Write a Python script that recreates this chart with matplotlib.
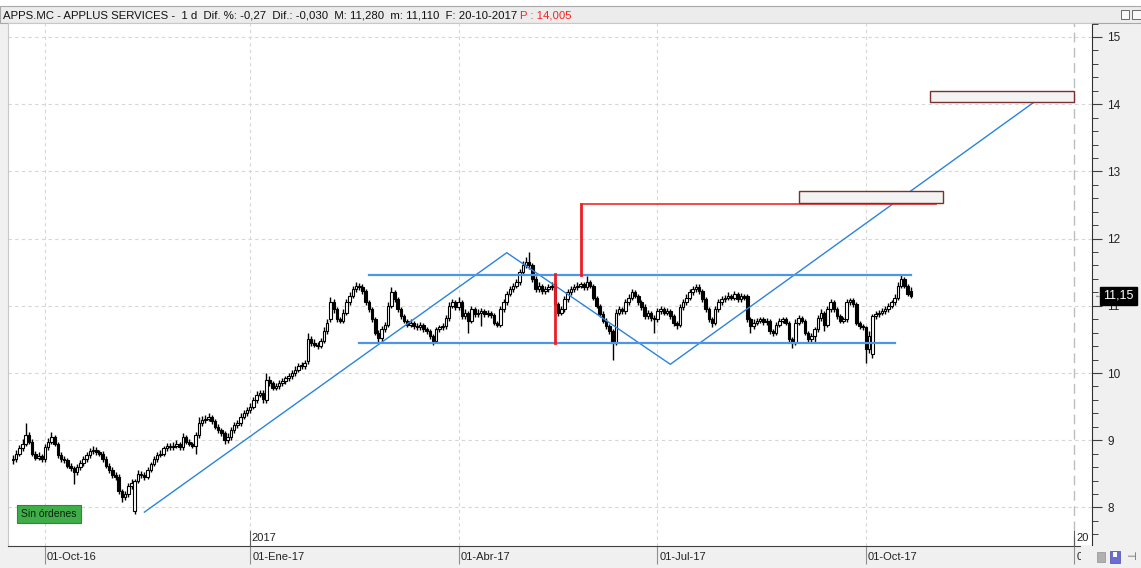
import matplotlib
matplotlib.use('Agg')
import matplotlib.pyplot as plt
from matplotlib.patches import Rectangle
import matplotlib.transforms as mtransforms
import numpy as np
import pandas as pd

plt.rcParams['font.family'] = ['Liberation Sans', 'DejaVu Sans']

# daily candles APPS.MC, 19-09-2016 .. 20-10-2017
opens = [8.70, 8.72, 8.80, 8.88, 8.95, 9.08, 8.98, 8.80, 8.74, 8.76,
         8.72, 8.90, 8.98, 9.05, 8.95, 8.78, 8.72, 8.70, 8.62, 8.58,
         8.52, 8.60, 8.66, 8.72, 8.78, 8.84, 8.86, 8.82, 8.80, 8.72,
         8.62, 8.55, 8.48, 8.45, 8.25, 8.15, 8.20, 8.32, 7.95, 8.40,
         8.50, 8.48, 8.45, 8.55, 8.65, 8.72, 8.78, 8.80, 8.88, 8.92,
         8.90, 8.92, 8.95, 8.90, 9.05, 8.98, 8.95, 8.92, 9.08, 9.25,
         9.30, 9.32, 9.35, 9.28, 9.20, 9.15, 9.10, 9.00, 9.05, 9.15,
         9.22, 9.25, 9.35, 9.40, 9.45, 9.50, 9.60, 9.68, 9.70, 9.60,
         9.90, 9.85, 9.78, 9.80, 9.85, 9.88, 9.92, 9.95, 10.00, 10.05,
         10.12, 10.10, 10.18, 10.50, 10.45, 10.42, 10.40, 10.48, 10.62, 10.80,
         11.05, 10.95, 10.80, 10.78, 10.90, 11.05, 11.15, 11.25, 11.30, 11.28,
         11.22, 11.05, 10.95, 10.80, 10.60, 10.52, 10.65, 10.72, 11.00, 11.20,
         11.10, 10.95, 10.85, 10.78, 10.72, 10.75, 10.70, 10.68, 10.72, 10.65,
         10.62, 10.55, 10.48, 10.65, 10.68, 10.70, 10.82, 11.00, 11.05, 10.98,
         11.05, 10.85, 10.90, 10.78, 10.95, 10.88, 10.90, 10.92, 10.88, 10.90,
         10.86, 10.75, 10.72, 10.95, 11.05, 11.18, 11.25, 11.30, 11.35, 11.50,
         11.60, 11.65, 11.60, 11.40, 11.25, 11.30, 11.22, 11.25, 11.28, 11.32,
         11.02, 10.90, 10.95, 11.10, 11.20, 11.25, 11.28, 11.30, 11.32, 11.28,
         11.35, 11.30, 11.12, 11.00, 10.88, 10.78, 10.70, 10.62, 10.45, 10.90,
         10.95, 10.92, 11.05, 11.12, 11.20, 11.15, 11.05, 10.98, 10.85, 10.90,
         10.82, 10.80, 10.92, 10.95, 10.90, 10.92, 10.85, 10.75, 10.72, 10.98,
         11.05, 11.12, 11.20, 11.25, 11.28, 11.22, 11.10, 10.95, 10.80, 10.75,
         10.95, 11.05, 11.10, 11.12, 11.15, 11.12, 11.18, 11.10, 11.15, 11.15,
         10.80, 10.70, 10.75, 10.78, 10.80, 10.76, 10.78, 10.62, 10.60, 10.72,
         10.78, 10.80, 10.75, 10.50, 10.45, 10.75, 10.82, 10.78, 10.60, 10.50,
         10.55, 10.65, 10.82, 10.90, 10.72, 10.95, 11.05, 10.95, 10.85, 10.78,
         10.80, 11.05, 11.08, 11.02, 10.75, 10.70, 10.68, 10.35, 10.28, 10.85,
         10.88, 10.90, 10.92, 10.95, 11.00, 11.05, 11.12, 11.30, 11.40, 11.30,
         11.22]
highs = [8.78, 8.86, 8.93, 9.02, 9.26, 9.12, 9.02, 8.84, 8.82, 8.80,
         8.95, 9.03, 9.12, 9.08, 8.98, 8.82, 8.76, 8.74, 8.66, 8.62,
         8.64, 8.70, 8.76, 8.82, 8.88, 8.92, 8.90, 8.86, 8.84, 8.76,
         8.66, 8.60, 8.52, 8.50, 8.28, 8.24, 8.36, 8.42, 8.43, 8.55,
         8.54, 8.52, 8.60, 8.68, 8.76, 8.82, 8.85, 8.92, 8.96, 8.96,
         8.97, 9.00, 8.98, 9.10, 9.08, 9.02, 8.98, 9.12, 9.35, 9.36,
         9.37, 9.40, 9.38, 9.32, 9.24, 9.18, 9.13, 9.10, 9.20, 9.27,
         9.30, 9.40, 9.45, 9.50, 9.55, 9.65, 9.73, 9.75, 9.74, 10.00,
         9.95, 9.88, 9.85, 9.90, 9.93, 9.96, 10.00, 10.05, 10.10, 10.15,
         10.16, 10.20, 10.60, 10.55, 10.50, 10.46, 10.52, 10.68, 10.80, 11.13,
         11.10, 10.98, 10.84, 10.95, 11.10, 11.20, 11.30, 11.35, 11.34, 11.32,
         11.25, 11.08, 10.98, 10.83, 10.64, 10.70, 10.76, 11.05, 11.28, 11.23,
         11.13, 10.98, 10.88, 10.81, 10.80, 10.78, 10.74, 10.76, 10.75, 10.68,
         10.65, 10.58, 10.69, 10.72, 10.74, 10.86, 11.05, 11.10, 11.08, 11.13,
         11.08, 10.95, 10.93, 11.00, 10.98, 10.95, 10.96, 10.95, 10.94, 10.93,
         10.90, 10.78, 11.00, 11.10, 11.22, 11.30, 11.34, 11.40, 11.55, 11.66,
         11.72, 11.80, 11.63, 11.44, 11.35, 11.33, 11.30, 11.32, 11.35, 11.36,
         11.05, 11.00, 11.15, 11.25, 11.30, 11.32, 11.35, 11.36, 11.36, 11.45,
         11.38, 11.33, 11.15, 11.03, 10.92, 10.82, 10.73, 10.66, 10.95, 11.00,
         10.98, 11.10, 11.18, 11.25, 11.24, 11.18, 11.08, 11.02, 10.94, 10.93,
         10.86, 10.97, 11.00, 10.98, 10.96, 10.95, 10.88, 10.78, 11.02, 11.10,
         11.17, 11.25, 11.30, 11.33, 11.32, 11.25, 11.13, 10.98, 10.83, 11.00,
         11.10, 11.15, 11.16, 11.20, 11.18, 11.22, 11.21, 11.19, 11.18, 11.18,
         10.83, 10.80, 10.82, 10.84, 10.83, 10.82, 10.81, 10.65, 10.76, 10.82,
         10.84, 10.83, 10.78, 10.53, 10.80, 10.86, 10.85, 10.81, 10.63, 10.59,
         10.69, 10.86, 10.95, 10.93, 11.00, 11.10, 11.08, 10.98, 10.88, 10.84,
         11.10, 11.12, 11.11, 11.05, 10.78, 10.73, 10.70, 10.62, 10.88, 10.92,
         10.94, 10.96, 10.99, 11.04, 11.09, 11.17, 11.35, 11.47, 11.43, 11.33,
         11.28]
lows = [8.64, 8.68, 8.76, 8.84, 8.92, 8.94, 8.76, 8.70, 8.70, 8.68,
        8.68, 8.86, 8.94, 8.92, 8.74, 8.68, 8.66, 8.58, 8.54, 8.35,
        8.48, 8.56, 8.62, 8.68, 8.74, 8.80, 8.78, 8.76, 8.68, 8.58,
        8.51, 8.44, 8.41, 8.20, 8.08, 8.11, 8.16, 8.28, 7.90, 8.36,
        8.44, 8.41, 8.42, 8.52, 8.62, 8.68, 8.75, 8.77, 8.84, 8.86,
        8.86, 8.88, 8.86, 8.86, 8.94, 8.91, 8.88, 8.80, 9.04, 9.21,
        9.26, 9.28, 9.24, 9.16, 9.11, 9.06, 8.95, 8.96, 9.01, 9.11,
        9.18, 9.21, 9.31, 9.36, 9.41, 9.46, 9.56, 9.64, 9.55, 9.56,
        9.81, 9.74, 9.74, 9.76, 9.81, 9.84, 9.88, 9.91, 9.96, 10.01,
        10.06, 10.06, 10.14, 10.40, 10.38, 10.36, 10.37, 10.44, 10.58, 10.76,
        10.90, 10.76, 10.74, 10.74, 10.86, 11.01, 11.11, 11.21, 11.24, 11.18,
        11.01, 10.91, 10.76, 10.56, 10.45, 10.48, 10.61, 10.68, 10.96, 11.06,
        10.91, 10.81, 10.74, 10.68, 10.68, 10.66, 10.64, 10.64, 10.61, 10.58,
        10.51, 10.42, 10.45, 10.61, 10.64, 10.66, 10.78, 10.96, 10.94, 10.94,
        10.80, 10.80, 10.60, 10.74, 10.84, 10.84, 10.70, 10.84, 10.84, 10.82,
        10.71, 10.68, 10.68, 10.91, 11.01, 11.14, 11.21, 11.26, 11.31, 11.46,
        11.56, 11.55, 11.36, 11.20, 11.21, 11.18, 11.18, 11.21, 11.24, 10.98,
        10.85, 10.86, 10.91, 11.06, 11.16, 11.21, 11.24, 11.26, 11.24, 11.24,
        11.26, 11.08, 10.96, 10.84, 10.74, 10.66, 10.58, 10.20, 10.42, 10.86,
        10.88, 10.88, 11.01, 11.08, 11.11, 11.01, 10.94, 10.81, 10.81, 10.78,
        10.60, 10.76, 10.88, 10.86, 10.86, 10.81, 10.70, 10.66, 10.68, 10.94,
        11.01, 11.08, 11.16, 11.21, 11.18, 11.06, 10.91, 10.76, 10.68, 10.71,
        10.91, 11.01, 11.06, 11.08, 11.08, 11.08, 11.06, 11.06, 11.08, 10.76,
        10.60, 10.66, 10.71, 10.74, 10.72, 10.72, 10.58, 10.55, 10.56, 10.68,
        10.74, 10.71, 10.45, 10.37, 10.41, 10.71, 10.74, 10.56, 10.46, 10.46,
        10.45, 10.61, 10.78, 10.62, 10.68, 10.91, 10.91, 10.81, 10.74, 10.74,
        10.76, 11.01, 10.98, 10.71, 10.66, 10.64, 10.15, 10.30, 10.22, 10.81,
        10.84, 10.86, 10.88, 10.91, 10.96, 11.01, 11.08, 11.26, 11.26, 11.14,
        11.11]
closes = [8.72, 8.80, 8.88, 8.95, 9.08, 8.98, 8.80, 8.74, 8.76, 8.72,
          8.90, 8.98, 9.05, 8.95, 8.78, 8.72, 8.70, 8.62, 8.58, 8.52,
          8.60, 8.66, 8.72, 8.78, 8.84, 8.86, 8.82, 8.80, 8.72, 8.62,
          8.55, 8.48, 8.45, 8.25, 8.15, 8.20, 8.32, 8.36, 8.40, 8.50,
          8.48, 8.45, 8.55, 8.65, 8.72, 8.78, 8.80, 8.88, 8.92, 8.90,
          8.92, 8.95, 8.90, 9.05, 8.98, 8.95, 8.92, 9.08, 9.25, 9.30,
          9.32, 9.35, 9.28, 9.20, 9.15, 9.10, 9.00, 9.05, 9.15, 9.22,
          9.25, 9.35, 9.40, 9.45, 9.50, 9.60, 9.68, 9.70, 9.62, 9.90,
          9.85, 9.78, 9.80, 9.85, 9.88, 9.92, 9.95, 10.00, 10.05, 10.10,
          10.10, 10.15, 10.50, 10.45, 10.42, 10.40, 10.48, 10.62, 10.75, 11.05,
          10.95, 10.80, 10.78, 10.90, 11.05, 11.15, 11.25, 11.30, 11.28, 11.22,
          11.05, 10.95, 10.80, 10.60, 10.52, 10.65, 10.72, 11.00, 11.20, 11.10,
          10.95, 10.85, 10.78, 10.72, 10.75, 10.70, 10.68, 10.72, 10.65, 10.62,
          10.55, 10.48, 10.65, 10.68, 10.70, 10.82, 11.00, 11.05, 10.98, 11.05,
          10.85, 10.90, 10.78, 10.95, 10.88, 10.90, 10.92, 10.88, 10.90, 10.86,
          10.75, 10.72, 10.95, 11.05, 11.18, 11.25, 11.30, 11.35, 11.50, 11.60,
          11.65, 11.60, 11.40, 11.25, 11.30, 11.22, 11.25, 11.28, 11.30, 11.02,
          10.90, 10.95, 11.10, 11.20, 11.25, 11.28, 11.30, 11.32, 11.28, 11.35,
          11.30, 11.12, 11.00, 10.88, 10.78, 10.70, 10.62, 10.45, 10.90, 10.95,
          10.92, 11.05, 11.12, 11.20, 11.15, 11.05, 10.98, 10.85, 10.90, 10.82,
          10.80, 10.92, 10.95, 10.90, 10.92, 10.85, 10.75, 10.72, 10.98, 11.05,
          11.12, 11.20, 11.25, 11.28, 11.22, 11.10, 10.95, 10.80, 10.75, 10.95,
          11.05, 11.10, 11.12, 11.15, 11.12, 11.18, 11.10, 11.15, 11.12, 10.80,
          10.70, 10.75, 10.78, 10.80, 10.76, 10.78, 10.62, 10.60, 10.72, 10.78,
          10.80, 10.75, 10.50, 10.45, 10.75, 10.82, 10.78, 10.60, 10.50, 10.55,
          10.65, 10.82, 10.90, 10.72, 10.95, 11.05, 10.95, 10.85, 10.78, 10.80,
          11.05, 11.08, 11.02, 10.75, 10.70, 10.68, 10.35, 10.55, 10.85, 10.88,
          10.90, 10.92, 10.95, 11.00, 11.05, 11.12, 11.30, 11.40, 11.30, 11.18,
          11.15]

holidays = ['2016-12-26', '2017-04-14', '2017-04-17', '2017-05-01']
tick_dates = ['2016-10-01', '2017-01-01', '2017-04-01', '2017-07-01', '2017-10-01', '2018-01-01']
tick_labels = ['01-Oct-16', '01-Ene-17', '01-Abr-17', '01-Jul-17', '01-Oct-17', '0']
year_dates = ['2017-01-01', '2018-01-01']
year_labels = ['2017', '20']

# drawings on the chart
zigzag_dates = ['2016-11-15', '2017-04-26', '2017-07-07', '2017-12-14']
zigzag_prices = [7.93, 11.79, 10.13, 14.05]
chan_starts = ['2017-02-22', '2017-02-17']
chan_ends = ['2017-10-20', '2017-10-13']
chan_prices = [11.46, 10.45]
proj_dates = ['2017-05-18', '2017-05-30', '2017-11-01']
proj_prices = [10.45, 11.47, 12.52]
box_starts = ['2017-09-01', '2017-10-30']
box_ends = ['2017-11-03', '2018-01-01']
box_lows = [12.53, 14.03]
box_highs = [12.71, 14.20]
last_price = '11,15'

hist = pd.bdate_range('2016-09-19', '2017-10-20', freq='C', holidays=holidays)
future = pd.bdate_range('2017-10-23', '2018-02-28')
days = hist.append(future)


def pos(d):
    return int(days.searchsorted(pd.Timestamp(d)))


W, H = 1141, 568
fig = plt.figure(figsize=(W / 100, H / 100), dpi=100, facecolor='#f0f0f0')


def fbox(x0, y0, x1, y1):
    # pixel box -> figure fraction
    return [x0 / W, 1 - y1 / H, (x1 - x0) / W, (y1 - y0) / H]


# window header
fig.patches.append(Rectangle((0, 1 - 6 / H), 1, 6 / H, transform=fig.transFigure,
                             facecolor='white', edgecolor='none', zorder=-2))
fig.patches.append(Rectangle((0, 1 - 23 / H), 1, 17 / H, transform=fig.transFigure,
                             facecolor='#ececec', edgecolor='#a8a8a8', lw=0.8, zorder=-1))
hdr = fig.text(3 / W, 1 - 15 / H,
               'APPS.MC - APPLUS SERVICES -  1 d  Dif. %: -0,27  Dif.: -0,030  M: 11,280  m: 11,110  F: 20-10-2017 ',
               fontsize=8.2, va='center', ha='left', color='#111111')
ax = fig.add_axes(fbox(8, 23, 1092, 546))
ax.annotate('P : 14,005', xy=(1, 0.5), xycoords=hdr, va='center', ha='left',
            fontsize=8.2, color='#ff2020', annotation_clip=False)
fig.patches.append(Rectangle((1121 / W, 1 - 19 / H), 8 / W, 9 / H, transform=fig.transFigure,
                             facecolor='#f8f8f8', edgecolor='#555555', lw=0.6, zorder=2))
fig.patches.append(Rectangle((1132 / W, 1 - 19 / H), 9 / W, 9 / H, transform=fig.transFigure,
                             facecolor='#f8f8f8', edgecolor='#555555', lw=0.6, zorder=2))

ax.set_facecolor('white')
o = np.array(opens)
h = np.array(highs)
l = np.array(lows)
c = np.array(closes)
n = len(c)
x = np.arange(n)
up = c >= o

ax.vlines(x, l, h, color='black', lw=1.0, zorder=3)
ax.bar(x[up], np.maximum(c - o, 0.004)[up], bottom=o[up], width=0.8,
       facecolor='white', edgecolor='black', lw=0.8, zorder=4)
ax.bar(x[~up], (o - c)[~up], bottom=c[~up], width=0.8,
       facecolor='black', edgecolor='black', lw=0.8, zorder=4)

# grid
for v in range(8, 16):
    ax.axhline(v, color='#d6d6d6', lw=0.8, dashes=(3, 3), zorder=1)
tick_pos = [pos(d) for d in tick_dates]
for tp in tick_pos[:-1]:
    ax.axvline(tp, color='#d6d6d6', lw=0.8, dashes=(3, 3), zorder=1)
ax.axvline(tick_pos[-1], color='#bdbdbd', lw=1.0, dashes=(7, 4), zorder=1)

# year marks at the bottom of the plot
for d, lab in zip(year_dates, year_labels):
    p = pos(d)
    ax.plot([p, p], [0, 0.028], color='#606060', lw=0.8,
            transform=ax.get_xaxis_transform(), clip_on=False, zorder=5)
    ax.text(p + 0.5, 0.006, lab, transform=ax.get_xaxis_transform(), fontsize=8,
            ha='left', va='bottom', color='#222222', clip_on=True, zorder=5)

# drawings
ax.plot([pos(d) for d in zigzag_dates], zigzag_prices, color='#2c83dc', lw=1.0, zorder=6)
for s, e, p in zip(chan_starts, chan_ends, chan_prices):
    ax.plot([pos(s), pos(e)], [p, p], color='#4d95e6', lw=1.6, zorder=6)
ax.plot([pos(proj_dates[0])] * 2, proj_prices[:2], color='#ee1c25', lw=2.0, zorder=7)
ax.plot([pos(proj_dates[1])] * 2, [chan_prices[0], proj_prices[2]], color='#ee1c25', lw=2.0, zorder=7)
ax.plot([pos(proj_dates[1]), pos(proj_dates[2])], [proj_prices[2]] * 2,
        color='#ee2a2a', lw=1.2, zorder=7)
for s, e, lo, hi in zip(box_starts, box_ends, box_lows, box_highs):
    ax.add_patch(Rectangle((pos(s), lo), pos(e) - pos(s), hi - lo, facecolor='#f3f3f3',
                           edgecolor='#7b2f2f', lw=1.0, zorder=8))

# label "Sin órdenes"
ax.add_patch(Rectangle((9 / 1084, 23 / 523), 64 / 1084, 18 / 523, transform=ax.transAxes,
                       facecolor='#3fae49', edgecolor='#2b8a34', lw=0.8, zorder=9))
ax.text(41 / 1084, 32 / 523, 'Sin órdenes', transform=ax.transAxes, fontsize=7.5,
        ha='center', va='center', color='#0d1f0d', zorder=10)

# last price tag
ax.text(1 + 1.5 / 1084, 11.15, '←', transform=ax.get_yaxis_transform(), fontsize=7,
        ha='left', va='center', color='#777777', clip_on=False)
ax.text(1 + 11 / 1084, 11.15, last_price, transform=ax.get_yaxis_transform(), fontsize=9,
        ha='left', va='center', color='white', clip_on=False, zorder=10,
        bbox=dict(boxstyle='square,pad=0.25', facecolor='black', edgecolor='black'))

ax.set_xlim(-1.53, 336.5)
ax.set_ylim(7.426, 15.208)

# price axis on the right
ax.yaxis.tick_right()
ax.set_yticks(range(8, 16))
ax.set_yticks(np.arange(7.6, 15.21, 0.2), minor=True)
ax.tick_params(axis='y', which='major', length=7, width=0.8, color='#404040',
               labelsize=8.5, labelcolor='#222222', pad=4)
ax.tick_params(axis='y', which='minor', length=4, width=0.7, color='#404040')

# date axis
ax.set_xticks(tick_pos)
ax.set_xticklabels(tick_labels)
ax.tick_params(axis='x', length=13, width=0.8, color='#909090', labelsize=8,
               labelcolor='#222222', pad=-9)
shift = mtransforms.ScaledTranslation(2 / 100, 0, fig.dpi_scale_trans)
for lab in ax.get_xticklabels():
    lab.set_ha('left')
    lab.set_transform(lab.get_transform() + shift)

for side in ['top', 'left']:
    ax.spines[side].set_color('#c8c8c8')
    ax.spines[side].set_linewidth(0.8)
ax.spines['right'].set_color('#303030')
ax.spines['bottom'].set_color('#404040')

# bottom right corner icons
fig.patches.append(Rectangle((1081 / W, 0), 60 / W, 22 / H, transform=fig.transFigure,
                             facecolor='#f0f0f0', edgecolor='none', zorder=1))
fig.patches.append(Rectangle((1097 / W, 6 / H), 8 / W, 10 / H, transform=fig.transFigure,
                             facecolor='#b0b0b0', edgecolor='#909090', lw=0.5, zorder=2))
fig.patches.append(Rectangle((1110 / W, 5 / H), 10 / W, 12 / H, transform=fig.transFigure,
                             facecolor='#6b6bd6', edgecolor='#4a4aa8', lw=0.5, zorder=2))
fig.patches.append(Rectangle((1113 / W, 11 / H), 4 / W, 5 / H, transform=fig.transFigure,
                             facecolor='white', edgecolor='none', zorder=3))
fig.text(1126 / W, 11 / H, '⊣', fontsize=8, color='#555555', va='center', ha='left',
         family=['DejaVu Sans'])

fig.savefig('out.png', dpi=100, facecolor=fig.get_facecolor())
